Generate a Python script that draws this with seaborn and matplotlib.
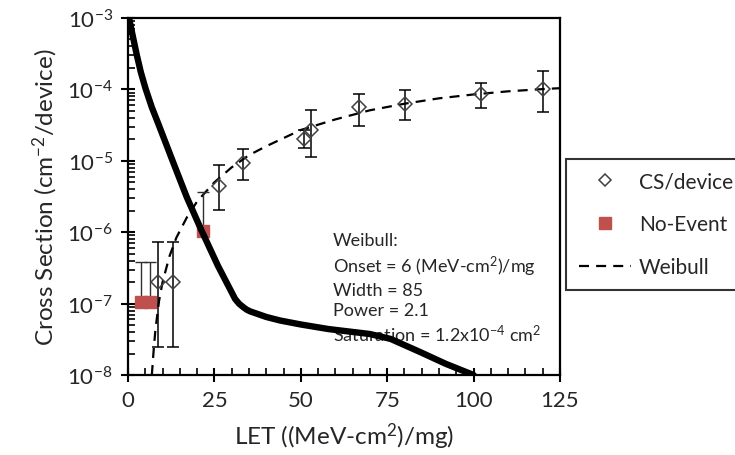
import matplotlib
import numpy as np
import seaborn as sns

matplotlib.use("Agg")
import matplotlib.pyplot as plt
from matplotlib.lines import Line2D
from matplotlib.ticker import FixedLocator, LogLocator, NullFormatter

# CS/device measurements
CS_LET = [8.6, 13.1, 26.4, 33.4, 50.9, 53.0, 66.9, 80.1, 102.1, 120.2]
CS_VALUE = [2.0e-7, 2.0e-7, 4.5e-6, 9.2e-6, 2.0e-5, 2.7e-5, 5.6e-5, 6.25e-5, 8.6e-5, 1.01e-4]
CS_UPPER = [7.2e-7, 7.2e-7, 8.7e-6, 1.46e-5, 2.7e-5, 5.2e-5, 8.7e-5, 9.8e-5, 1.23e-4, 1.83e-4]
CS_LOWER = [2.5e-8, 2.5e-8, 2.07e-6, 5.4e-6, 1.5e-5, 1.14e-5, 3.1e-5, 3.7e-5, 5.5e-5, 4.9e-5]

# No-event runs (upper limit only)
NE_LET = [3.7, 6.3, 21.8]
NE_VALUE = [1.05e-7, 1.05e-7, 1.05e-6]
NE_UPPER = [3.8e-7, 3.8e-7, 3.7e-6]

# Weibull fit
WEIBULL_LET = [6.9, 7.5, 8, 9, 10, 12, 14, 17, 20, 25, 30, 35, 40, 50, 60, 70, 80, 90, 100, 110, 120, 125]
WEIBULL_CS = [1.0e-8, 2.5e-8, 4.6e-8, 1.1e-7, 2.0e-7, 4.6e-7, 8.4e-7, 1.6e-6, 2.7e-6, 5.0e-6, 8.1e-6,
              1.2e-5, 1.6e-5, 2.7e-5, 3.8e-5, 5.1e-5, 6.3e-5, 7.5e-5, 8.5e-5, 9.4e-5, 1.01e-4, 1.04e-4]

# thick black curve
SPECTRUM_LET = [0.3, 1.25, 2.5, 3.7, 5.1, 6.9, 8.8, 12.9, 17, 21.3, 26, 31, 32.2, 33.5, 34.4, 35.3, 40,
                44, 50, 58, 70, 76, 84.5, 92, 100]
SPECTRUM_CS = [1e-3, 6.0e-4, 3.1e-4, 1.75e-4, 1.02e-4, 5.6e-5, 3.27e-5, 1e-5, 3.1e-6, 1.05e-6, 3.4e-7,
               1.16e-7, 9.9e-8, 8.8e-8, 8.2e-8, 7.8e-8, 6.5e-8, 5.8e-8, 5.1e-8, 4.4e-8, 3.75e-8,
               3.2e-8, 2.1e-8, 1.43e-8, 1.0e-8]

X_TICKS = [0, 25, 50, 75, 100, 125]
Y_TICKS = [1e-8, 1e-7, 1e-6, 1e-5, 1e-4, 1e-3]
Y_TICK_LABELS = ["$10^{-8}$", "$10^{-7}$", "$10^{-6}$", "$10^{-5}$", "$10^{-4}$", "$10^{-3}$"]

FIT_TEXT = ("Weibull:\nOnset = 6 (MeV-cm$^2$)/mg\nWidth = 85\nPower = 2.1\n"
            "Saturation = 1.2x10$^{-4}$ cm$^2$")

RED = "#C0504D"

sns.set_theme(style="ticks")
plt.rcParams.update(
    {
        "font.family": ["Lato", "DejaVu Sans"],
        "mathtext.fontset": "custom",
        "mathtext.rm": "Lato",
        "mathtext.it": "Lato:italic",
        "mathtext.default": "regular",
        "text.color": "#262626",
        "axes.labelcolor": "#262626",
        "xtick.color": "black",
        "ytick.color": "black",
        "xtick.labelcolor": "#262626",
        "ytick.labelcolor": "#262626",
    }
)

fig = plt.figure(figsize=(7.35, 4.56), dpi=100)
ax = fig.add_axes([128 / 735, 1 - 376 / 456, 432 / 735, 357 / 456])

sns.lineplot(x=WEIBULL_LET, y=WEIBULL_CS, ax=ax, color="black", lw=1.6, sort=False, zorder=2)
ax.lines[-1].set_dashes((4.5, 3.2))

ax.errorbar(NE_LET, NE_VALUE, yerr=[np.zeros(len(NE_VALUE)), np.array(NE_UPPER) - np.array(NE_VALUE)],
            fmt="none", ecolor="#303030", elinewidth=1.0, capsize=4, capthick=1.0, zorder=3)
ax.plot(NE_LET, NE_VALUE, ls="none", marker="s", ms=8, color=RED, mec=RED, zorder=4)

sns.lineplot(x=SPECTRUM_LET, y=SPECTRUM_CS, ax=ax, color="black", lw=4.6, sort=False, zorder=5)
ax.lines[-1].set_solid_joinstyle("round")

cs_val = np.array(CS_VALUE)
ax.errorbar(CS_LET, CS_VALUE, yerr=[cs_val - np.array(CS_LOWER), np.array(CS_UPPER) - cs_val],
            fmt="none", ecolor="black", elinewidth=1.1, capsize=4, capthick=1.1, zorder=6)
ax.plot(CS_LET, CS_VALUE, ls="none", marker="D", ms=7, mfc="none", mec="#404040", mew=1.1, zorder=7)

ax.set_yscale("log")
ax.set_xlim(0, 125)
ax.set_ylim(1e-8, 1e-3)
ax.xaxis.set_major_locator(FixedLocator(X_TICKS))
ax.xaxis.set_minor_locator(FixedLocator(np.arange(0, 126, 5)))
ax.set_yticks(Y_TICKS)
ax.set_yticklabels(Y_TICK_LABELS)
ax.yaxis.set_minor_locator(LogLocator(base=10, subs=np.arange(2, 10)))
ax.yaxis.set_minor_formatter(NullFormatter())

ax.tick_params(which="major", direction="inout", length=10, width=1.5, labelsize=16, pad=6)
ax.tick_params(which="minor", direction="in", length=5, width=1.2)
for side in ["left", "right", "top", "bottom"]:
    ax.spines[side].set_visible(True)
    ax.spines[side].set_linewidth(1.6)
    ax.spines[side].set_color("black")

ax.set_xlabel("LET ((MeV-cm$^2$)/mg)", fontsize=17.5, labelpad=7)
ax.set_ylabel("Cross Section (cm$^{-2}$/device)", fontsize=17.5, labelpad=5)

ax.text(59.3, 1.0e-6, FIT_TEXT, fontsize=13, va="top", ha="left", linespacing=1.3, zorder=1)

handles = [
    Line2D([], [], ls="none", marker="D", ms=6, mfc="none", mec="#404040", mew=1.1),
    Line2D([], [], ls="none", marker="s", ms=8, color=RED),
    Line2D([], [], color="black", lw=1.6, dashes=(4.5, 3.2)),
]
leg = fig.legend(handles, ["CS/device", "No-Event", "Weibull"], loc="upper left",
                 bbox_to_anchor=(566 / 735, 1 - 160 / 456), fontsize=15, frameon=True,
                 fancybox=False, edgecolor="black", borderpad=0.6, labelspacing=1.1,
                 handlelength=2.5, handletextpad=0.4, borderaxespad=0)
leg.get_frame().set_linewidth(1.5)

fig.savefig("out.png", dpi=100)
